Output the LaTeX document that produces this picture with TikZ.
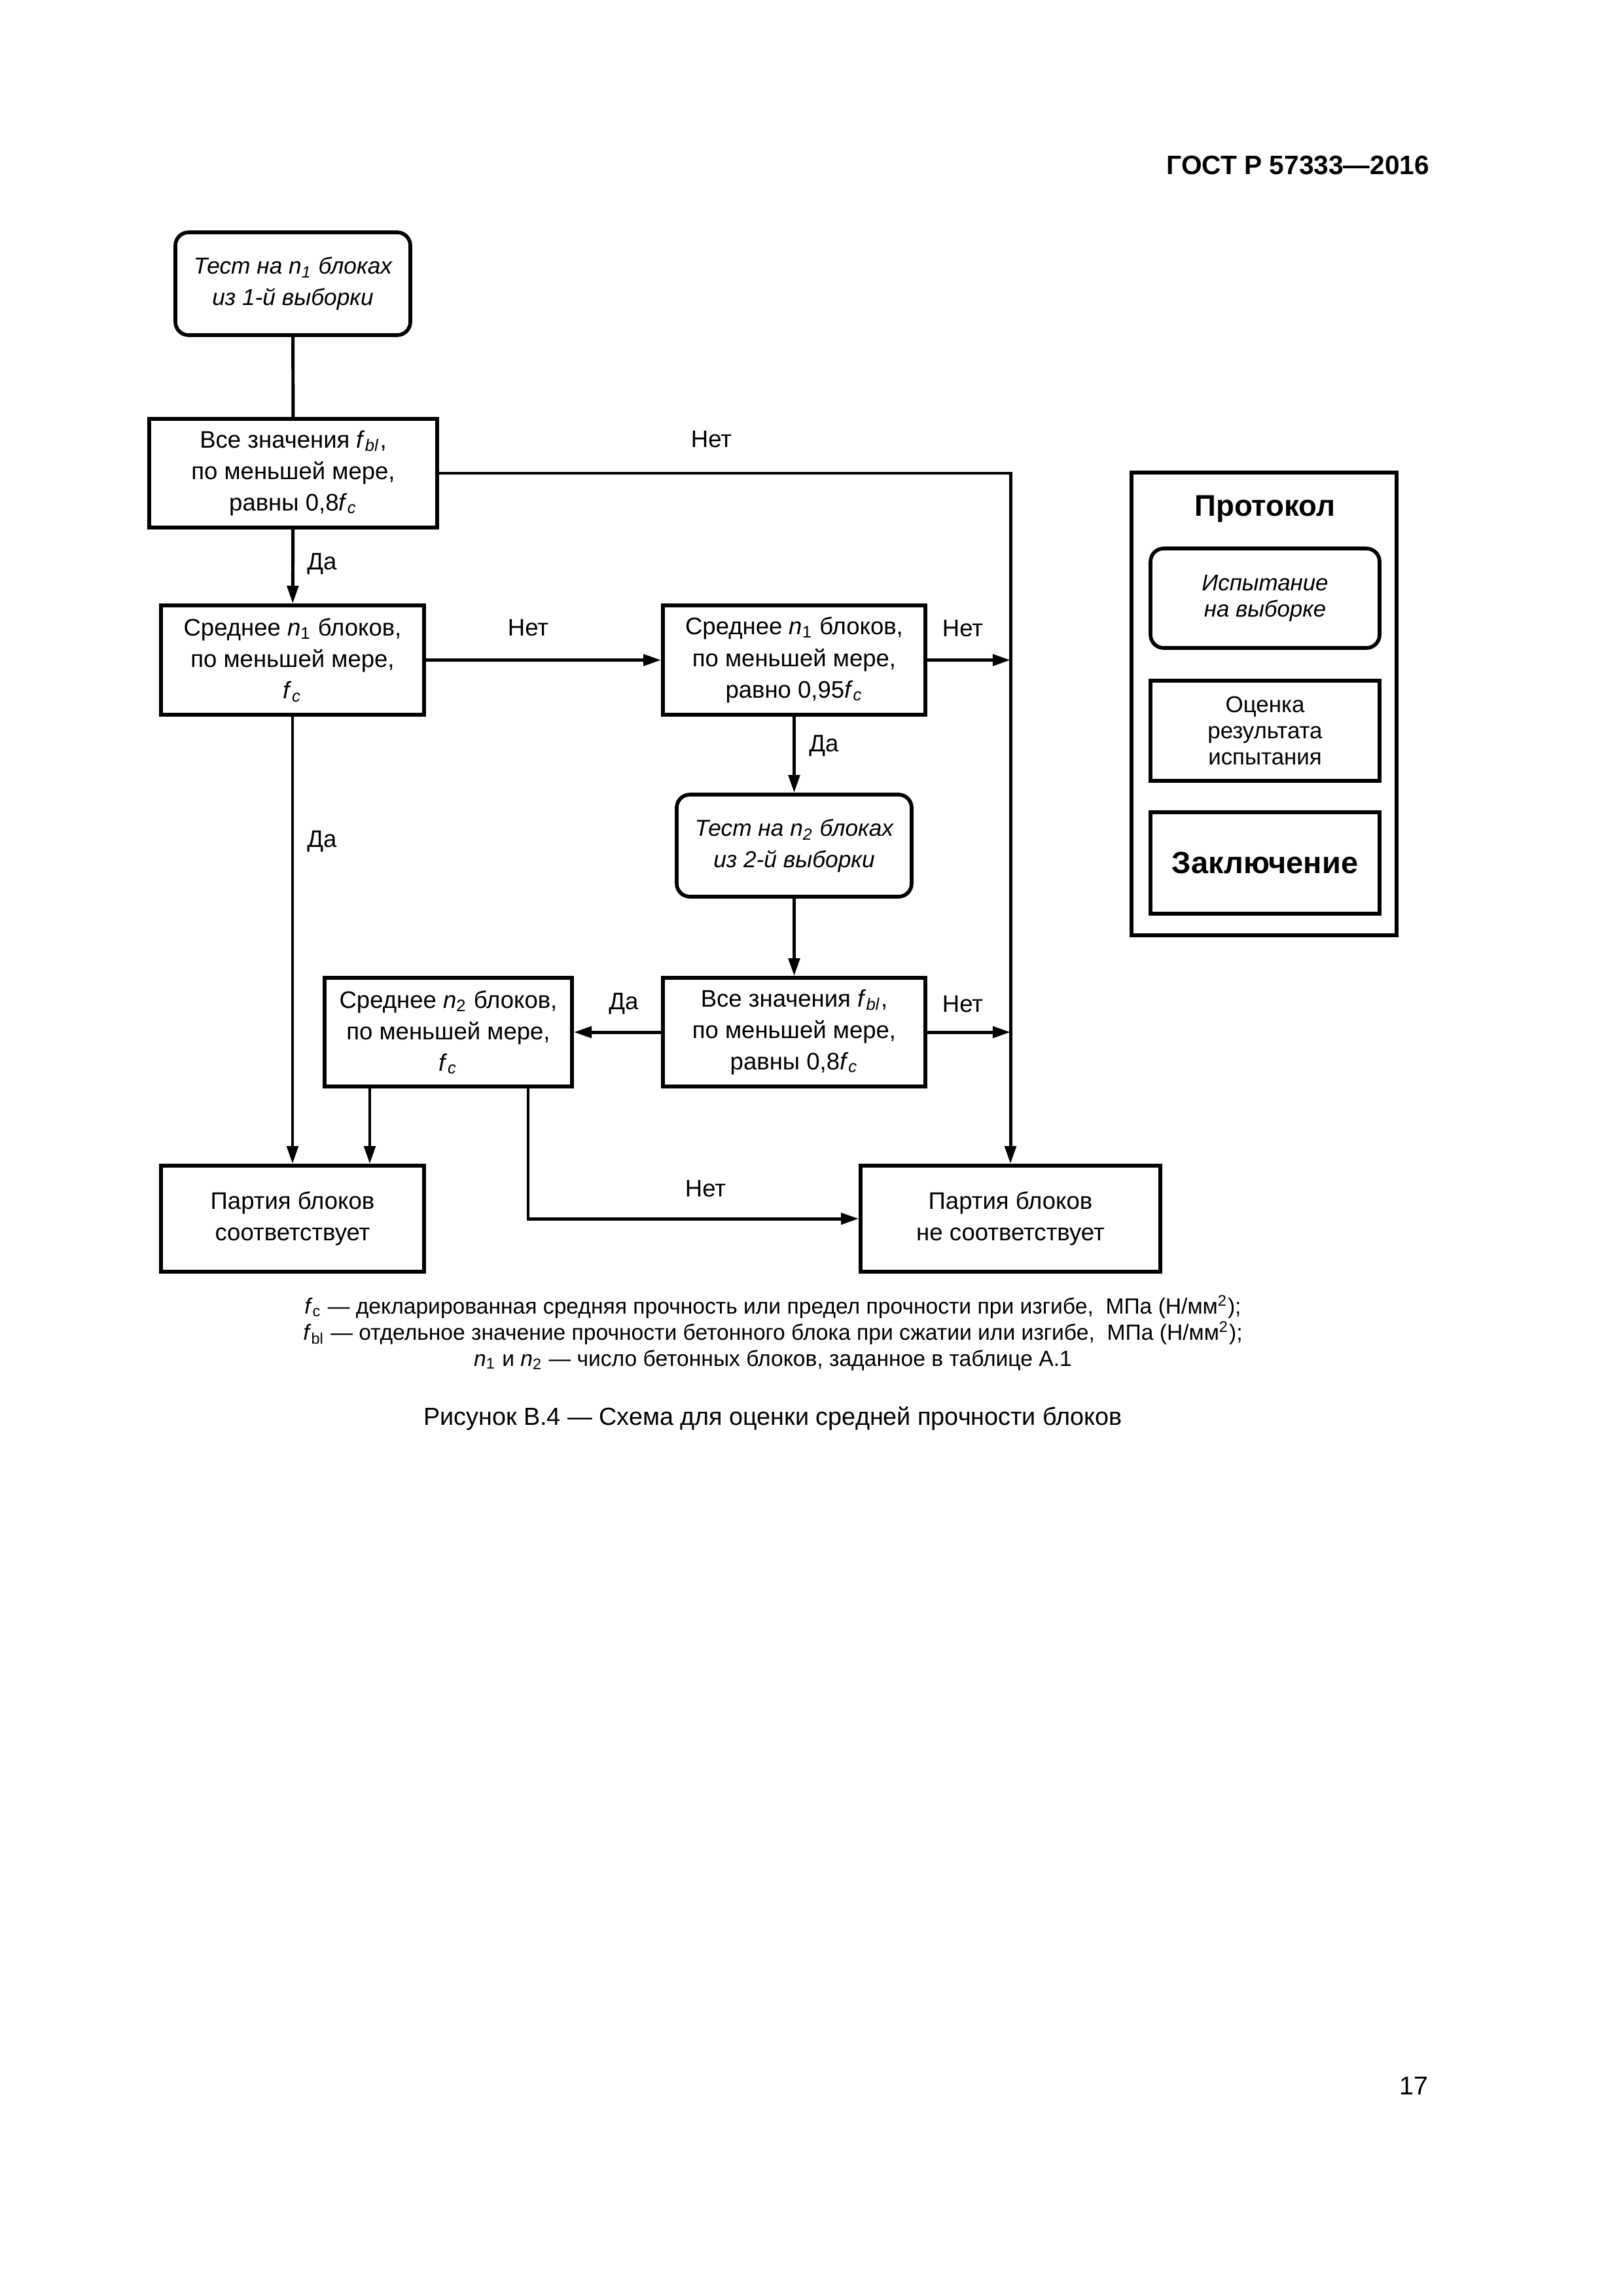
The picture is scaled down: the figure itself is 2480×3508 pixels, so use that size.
\documentclass[tikz,border=0pt]{standalone}
\usepackage{fontspec}
\setmainfont{Liberation Sans}
\usetikzlibrary{arrows.meta}
\begin{document}
\begin{tikzpicture}[x=0.0846667mm,y=-0.0846667mm,
  bx/.style 2 args={draw, line width=0.48mm, minimum width=#1*0.0846667mm, minimum height=#2*0.0846667mm, inner sep=0pt, align=center, font=\fontsize{8.8}{11.6}\selectfont},
  rbx/.style 2 args={bx={#1}{#2}, rounded corners=1.7mm},
  conn/.style={line width=0.42mm},
  arr/.style={conn, -{Triangle[length=2.3mm,width=1.45mm]}},
  lbl/.style={inner sep=0pt, font=\fontsize{8.8}{11.6}\selectfont},
  note/.style={inner sep=0pt, font=\fontsize{8.1}{9.7}\selectfont}]
\fill[white] (0,0) rectangle (2480,3508);
\useasboundingbox (0,0) rectangle (2480,3508);

% header
\node[anchor=east, inner sep=0pt, font=\bfseries\fontsize{9.8}{12}\selectfont] (hdr) at (2185,253) {ГОСТ Р 57333—2016};

% flowchart boxes
\node[rbx={359}{157}, font=\itshape\fontsize{8.5}{11.6}\selectfont] (A) at (447.5,433.5) {Тест на n\textsubscript{1} блоках\\из 1-й выборки};
\node[bx={440}{166}] (B) at (448,723) {Все значения \textit{f}\textsubscript{\textit{bl}},\\по меньшей мере,\\равны 0,8\textit{f}\textsubscript{\textit{c}}};
\node[bx={402}{167}] (C) at (447,1008.5) {Среднее \textit{n}\textsubscript{1} блоков,\\по меньшей мере,\\\textit{f}\textsubscript{\textit{c}}};
\node[bx={401}{167}] (D) at (1213.5,1008.5) {Среднее \textit{n}\textsubscript{1} блоков,\\по меньшей мере,\\равно 0,95\textit{f}\textsubscript{\textit{c}}};
\node[rbx={359}{156}, font=\itshape\fontsize{8.5}{11.6}\selectfont] (E) at (1213.5,1292) {Тест на n\textsubscript{2} блоках\\из 2-й выборки};
\node[bx={401}{166}] (F) at (1213.5,1577) {Все значения \textit{f}\textsubscript{\textit{bl}},\\по меньшей мере,\\равны 0,8\textit{f}\textsubscript{\textit{c}}};
\node[bx={378}{166}] (G) at (685,1577) {Среднее \textit{n}\textsubscript{2} блоков,\\по меньшей мере,\\\textit{f}\textsubscript{\textit{c}}};
\node[bx={402}{162}] (H) at (447,1862) {Партия блоков\\соответствует};
\node[bx={458}{162}] (I) at (1544,1862) {Партия блоков\\не соответствует};

\coordinate (gh) at (565,1700);
\coordinate (gi) at (807,1700);

% connectors
\draw[conn] (A) -- (B);
\draw[arr] (B) -- (C);
\draw[arr] (B.east) -| (I.north);
\draw[arr] (C) -- (D);
\draw[arr] (D.east) -- (D.east -| I.north);
\draw[arr] (D) -- (E);
\draw[arr] (E) -- (F);
\draw[arr] (F.east) -- (F.east -| I.north);
\draw[arr] (F) -- (G);
\draw[arr] (C) -- (H);
\draw[arr] (G.south -| gh) -- (H.north -| gh);
\draw[arr] (G.south -| gi) |- (I.west);

% connector labels
\node[lbl] (l1) at (1087,671) {Нет};
\node[lbl] (l2) at (492,862) {Да};
\node[lbl] (l3) at (807,959) {Нет};
\node[lbl] (l4) at (1471,960) {Нет};
\node[lbl] (l5) at (1259,1140) {Да};
\node[lbl] (l6) at (492,1286) {Да};
\node[lbl] (l7) at (953,1534) {Да};
\node[lbl] (l8) at (1471,1534) {Нет};
\node[lbl] (l9) at (1078,1816) {Нет};

% protocol legend
\node[draw, line width=0.48mm, minimum width=405*0.0846667mm, minimum height=707*0.0846667mm, inner sep=0pt] (P) at (1931.5,1075.5) {};
\node[inner sep=0pt, font=\bfseries\fontsize{11}{13}\selectfont] (Pt) at (1933,778) {Протокол};
\node[rbx={350}{152}, font=\itshape\fontsize{8.4}{9.6}\selectfont] (P1) at (1933,914) {Испытание\\на выборке};
\node[bx={350}{153}, font=\fontsize{8.4}{9.6}\selectfont] (P2) at (1933,1116.5) {Оценка\\результата\\испытания};
\node[bx={350}{155}, font=\bfseries\fontsize{11.3}{13}\selectfont] (P3) at (1933,1318.5) {Заключение};

% notes
\node[note] (n1) at (1181,1997) {\textit{f}\textsubscript{c} — декларированная средняя прочность или предел прочности при изгибе,\ \ МПа (Н/мм\textsuperscript{2});};
\node[note] (n2) at (1181,2037) {\textit{f}\textsubscript{bl} — отдельное значение прочности бетонного блока при сжатии или изгибе,\ \ МПа (Н/мм\textsuperscript{2});};
\node[note] (n3) at (1181,2078) {\textit{n}\textsubscript{1} и \textit{n}\textsubscript{2} — число бетонных блоков, заданное в таблице А.1};

\node[inner sep=0pt, font=\fontsize{9.1}{11}\selectfont] (cap) at (1181,2167) {Рисунок В.4 — Схема для оценки средней прочности блоков};
\node[inner sep=0pt, font=\fontsize{9.5}{11}\selectfont] (pg) at (2160,3187) {17};
\end{tikzpicture}
\end{document}
